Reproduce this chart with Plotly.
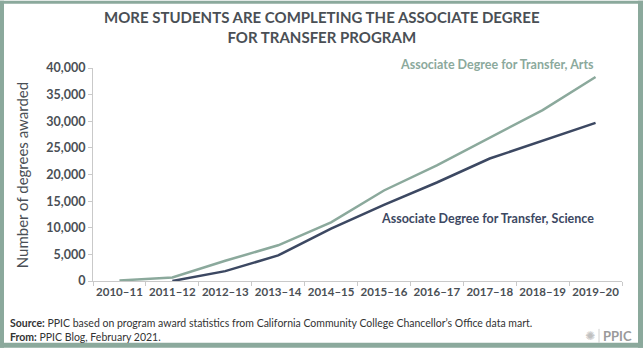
import plotly.graph_objects as go

# ---- data ----
years = ["2010–11", "2011–12", "2012–13", "2013–14", "2014–15",
         "2015–16", "2016–17", "2017–18", "2018–19", "2019–20"]
arts = [100, 650, 3800, 6700, 11000, 17000, 21700, 26900, 32100, 38300]
science = [None, 0, 1850, 4800, 9850, 14300, 18500, 23000, 26400, 29700]
y_ticks = [0, 5000, 10000, 15000, 20000, 25000, 30000, 35000, 40000]

# ---- styling ----
W, H = 643, 348
L, R, T, B = 93, 21, 67.5, 67
PW, PH = W - L - R, H - T - B
GREEN = "#8ba99c"
NAVY = "#3c4862"
TEXT = "#4a4f55"
AXIS = "#c9c9c9"
FONT = "Lato"


def px(x):
    return (x - L) / PW


def py(y):
    return 1 - (y - T) / PH


fig = go.Figure()
fig.add_trace(go.Scatter(x=years, y=arts, mode="lines",
                         line=dict(color=GREEN, width=2.5), hoverinfo="skip",
                         showlegend=False))
fig.add_trace(go.Scatter(x=years, y=science, mode="lines",
                         line=dict(color=NAVY, width=2.5), hoverinfo="skip",
                         showlegend=False))

fig.update_layout(
    width=W, height=H,
    margin=dict(l=L, r=R, t=T, b=B, pad=0),
    paper_bgcolor="white", plot_bgcolor="white",
    font=dict(family=FONT, color=TEXT),
    xaxis=dict(type="category", showgrid=False, zeroline=False,
               showline=True, linecolor=AXIS, linewidth=1,
               ticks="outside", tickson="boundaries", ticklen=4,
               tickcolor=AXIS, tickangle=0, automargin=False,
               tickfont=dict(family=FONT, size=11.5, color=TEXT, weight="bold"),
               range=[-0.5, 9.5]),
    yaxis=dict(range=[0, 40000], tickvals=y_ticks, tickformat=",",
               showgrid=False, zeroline=False, showline=True,
               linecolor=AXIS, linewidth=1, ticks="outside", ticklen=4,
               tickcolor=AXIS, automargin=False,
               tickfont=dict(family=FONT, size=12.5, color=TEXT, weight="bold")),
)

ann = []
ann.append(dict(text="<b>MORE STUDENTS ARE COMPLETING THE ASSOCIATE DEGREE<br>FOR TRANSFER PROGRAM</b>",
                x=px(321.5), y=py(26), xref="paper", yref="paper",
                xanchor="center", yanchor="middle", showarrow=False,
                font=dict(family=FONT, size=15, color=TEXT), align="center"))
ann.append(dict(text="Number of degrees awarded", textangle=-90,
                x=px(22), y=py(175), xref="paper", yref="paper",
                xanchor="center", yanchor="middle", showarrow=False,
                font=dict(family=FONT, size=15, color=TEXT)))
ann.append(dict(text="<b>Associate Degree for Transfer, Arts</b>",
                x=years[-1], y=py(64), xref="x", yref="paper",
                xanchor="right", yanchor="middle", showarrow=False,
                font=dict(family=FONT, size=12.5, color=GREEN)))
ann.append(dict(text="<b>Associate Degree for Transfer, Science</b>",
                x=years[-1], y=py(218), xref="x", yref="paper",
                xanchor="right", yanchor="middle", showarrow=False,
                font=dict(family=FONT, size=12.5, color=NAVY)))
ann.append(dict(text="<b>Source:</b> PPIC based on program award statistics from California Community College Chancellor’s Office data mart.",
                x=px(8), y=py(323), xref="paper", yref="paper",
                xanchor="left", yanchor="middle", showarrow=False,
                font=dict(family=FONT, size=10.5, color="#333333")))
ann.append(dict(text="<b>From:</b> PPIC Blog, February 2021.",
                x=px(8), y=py(337), xref="paper", yref="paper",
                xanchor="left", yanchor="middle", showarrow=False,
                font=dict(family=FONT, size=10.5, color="#333333")))
ann.append(dict(text="<b>PPIC</b>",
                x=px(634), y=py(336), xref="paper", yref="paper",
                xanchor="right", yanchor="middle", showarrow=False,
                font=dict(family=FONT, size=13, color="#9a9a9a")))
ann.append(dict(text="✺",
                x=px(590), y=py(336), xref="paper", yref="paper",
                xanchor="center", yanchor="middle", showarrow=False,
                font=dict(family="DejaVu Sans", size=12, color="#c0c0c0")))
fig.update_layout(annotations=ann)

# frame border
shapes = []
for (x0, y0, x1, y1) in [(0, 0, 4, H), (W - 5, 0, W, H), (0, 0, W, 3), (0, H - 5, W, H)]:
    shapes.append(dict(type="rect", xref="paper", yref="paper",
                       x0=px(x0), x1=px(x1), y0=py(y1), y1=py(y0),
                       fillcolor=GREEN, line=dict(width=0), layer="above"))
shapes.append(dict(type="line", xref="paper", yref="paper",
                   x0=px(599), x1=px(599), y0=py(329), y1=py(343),
                   line=dict(color="#d0d0d0", width=1)))
fig.update_layout(shapes=shapes)

fig.write_html("out.html")
